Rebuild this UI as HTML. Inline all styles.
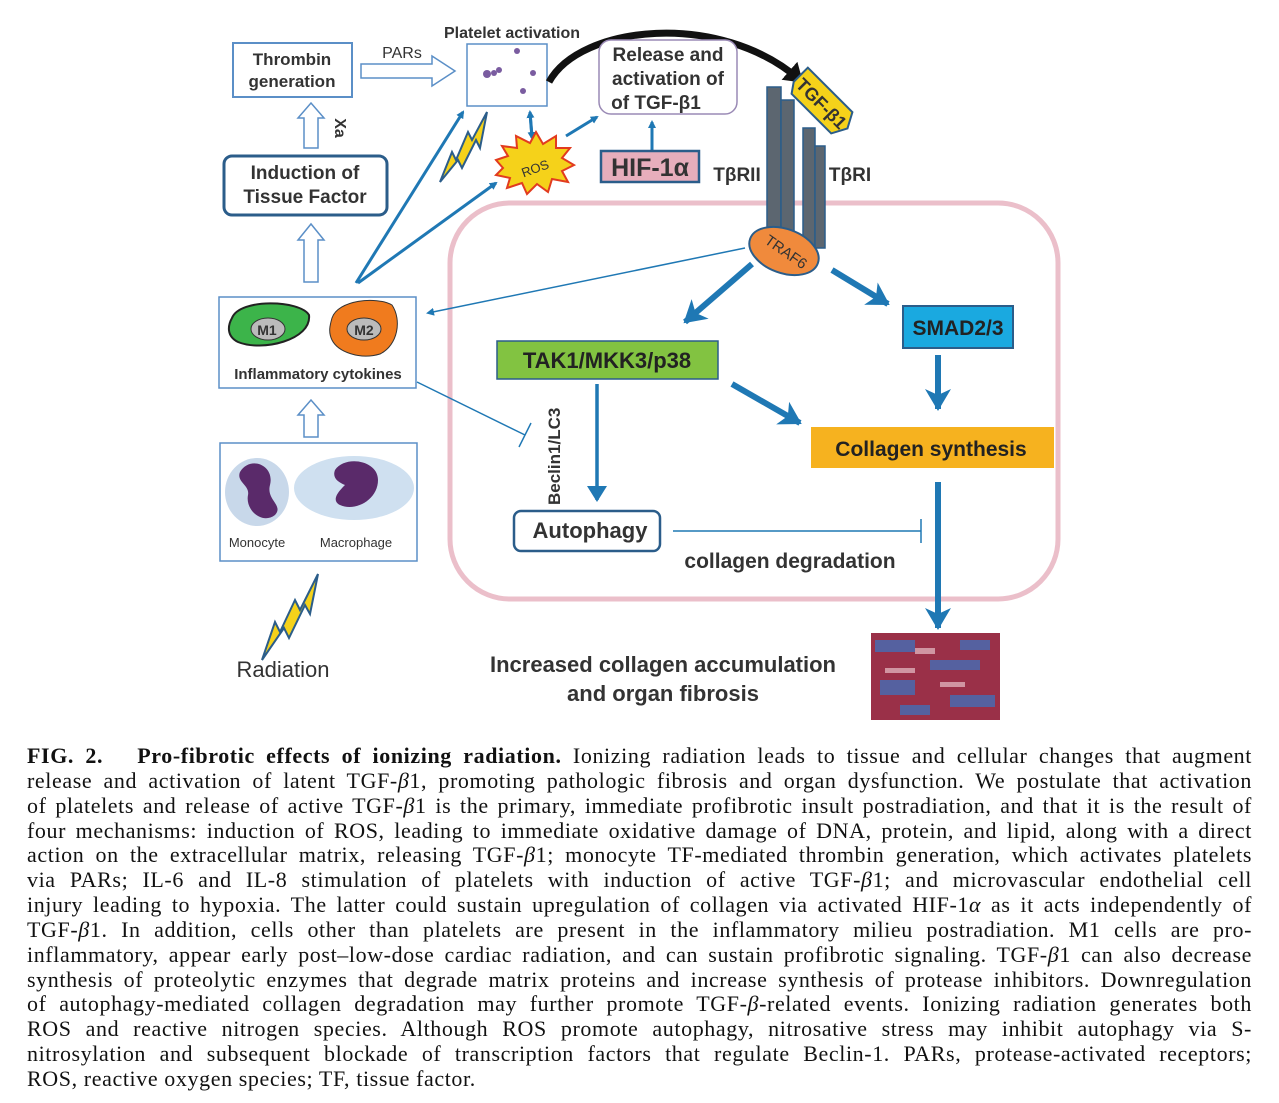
<!DOCTYPE html>
<html><head><meta charset="utf-8"><style>
body{margin:0;background:#fff;width:1279px;height:1103px;overflow:hidden;position:relative}
svg{position:absolute;left:0;top:0}
.cap{position:absolute;left:27px;width:1225px;top:744px;font-family:"Liberation Serif",serif;font-size:22px;line-height:24.85px;color:#111;letter-spacing:0.6px}
.cap div{text-align:justify;text-align-last:justify;white-space:nowrap;overflow:visible}
.cap div.l{text-align-last:left}
</style></head><body>
<svg width="1279" height="740" viewBox="0 0 1279 740" font-family="Liberation Sans, sans-serif">
<defs>
<marker id="a" markerWidth="8" markerHeight="8" refX="6" refY="4" orient="auto" markerUnits="userSpaceOnUse"><path d="M0,0 L8,4 L0,8 z" fill="#1f78b4"/></marker>
<marker id="ab" markerWidth="26" markerHeight="26" refX="20" refY="13" orient="auto" markerUnits="userSpaceOnUse"><path d="M0,0 L22,13 L0,26 L6,13z" fill="#1f78b4"/></marker>
<marker id="as" markerWidth="20" markerHeight="20" refX="14" refY="10" orient="auto" markerUnits="userSpaceOnUse"><path d="M0,0 L16,10 L0,20 z" fill="#1f78b4"/></marker>
<marker id="ak" markerWidth="24" markerHeight="24" refX="14" refY="12" orient="auto" markerUnits="userSpaceOnUse"><path d="M0,0 L18,12 L0,24 z" fill="#111"/></marker>
</defs>
<rect x="450" y="203" width="608" height="396" rx="60" fill="none" stroke="#ebbfca" stroke-width="5"/>
<rect x="233" y="43" width="119" height="54" fill="#fff" stroke="#5b8fc7" stroke-width="2"/>
<text x="292" y="65" font-size="17" text-anchor="middle" font-weight="bold" fill="#333">Thrombin</text>
<text x="292" y="87" font-size="17" text-anchor="middle" font-weight="bold" fill="#333">generation</text>
<text x="402" y="58" font-size="16" text-anchor="middle" fill="#333">PARs</text>
<path d="M361,64 H432 V56 L455,71 L432,86 V78 H361z" fill="#fff" stroke="#5b8fc7" stroke-width="1.5"/>
<text x="512" y="38" font-size="16" text-anchor="middle" font-weight="bold" fill="#333">Platelet activation</text>
<rect x="467" y="44" width="80" height="62" fill="#fff" stroke="#5b8fc7" stroke-width="1.5"/>
<g fill="#7a5ca0"><circle cx="487" cy="74" r="4"/><circle cx="494" cy="73" r="3"/><circle cx="499" cy="70" r="3"/><circle cx="517" cy="51" r="3"/><circle cx="533" cy="73" r="3"/><circle cx="523" cy="91" r="3"/></g>
<path d="M549,82 C580,25 720,10 800,80" fill="none" stroke="#111" stroke-width="7" marker-end="url(#ak)"/>
<rect x="599" y="40" width="138" height="74" rx="12" fill="#fff" stroke="#9a8ab5" stroke-width="1.5"/>
<text x="668" y="61" font-size="19" text-anchor="middle" font-weight="bold" fill="#333">Release and</text>
<text x="668" y="85" font-size="19" text-anchor="middle" font-weight="bold" fill="#333">activation of</text>
<text x="656" y="109" font-size="19" text-anchor="middle" font-weight="bold" fill="#333">of TGF-β1</text>
<path d="M304,148 V118 H298 L311,103 L324,118 H318 V148z" fill="#fff" stroke="#5b8fc7" stroke-width="1.5"/>
<text x="335" y="128" font-size="16" font-weight="bold" fill="#333" transform="rotate(90 335 128)" text-anchor="middle">Xa</text>
<rect x="224" y="156" width="163" height="59" rx="8" fill="#fff" stroke="#2b5d8a" stroke-width="3"/>
<text x="305" y="179" font-size="19" text-anchor="middle" font-weight="bold" fill="#333">Induction of</text>
<text x="305" y="203" font-size="19" text-anchor="middle" font-weight="bold" fill="#333">Tissue Factor</text>
<path d="M304,282 V240 H298 L311,224 L324,240 H318 V282z" fill="#fff" stroke="#5b8fc7" stroke-width="1.5"/>
<path d="M487,112 L472,140 L468,132 L456,160 L452,152 L440,182 L458,160 L462,168 L476,140 L480,148z" fill="#f5d21a" stroke="#2b5d8a" stroke-width="2"/>
<g stroke="#1f78b4" stroke-width="3" fill="none">
<line x1="356" y1="283" x2="463" y2="112" marker-end="url(#a)"/>
<line x1="358" y1="283" x2="496" y2="183" marker-end="url(#a)"/>
<line x1="566" y1="136" x2="597" y2="117" marker-end="url(#a)"/>
<line x1="652" y1="150" x2="652" y2="122" marker-end="url(#a)"/>
<line x1="530" y1="113" x2="532" y2="138" marker-end="url(#a)"/>
<line x1="532" y1="136" x2="530" y2="112" marker-end="url(#a)"/>
</g>
<path d="M503,168 L496,160 L508,156 L502,146 L517,148 L516,136 L530,143 L536,132 L543,144 L556,136 L556,148 L570,148 L562,158 L574,165 L562,171 L568,182 L552,179 L548,192 L537,184 L527,194 L522,183 L507,188 L510,178 L496,175z" fill="#f5d21a" stroke="#e23b1f" stroke-width="2"/>
<text x="535" y="173" font-size="13" text-anchor="middle" fill="#333" transform="rotate(-20 535 168)">ROS</text>
<rect x="601" y="151" width="98" height="31" fill="#e7aebc" stroke="#2b5d8a" stroke-width="2.5"/>
<text x="650" y="176" font-size="25" text-anchor="middle" font-weight="bold" fill="#333">HIF-1α</text>
<text x="737" y="181" font-size="19" text-anchor="middle" font-weight="bold" fill="#333">TβRII</text>
<text x="850" y="181" font-size="19" text-anchor="middle" font-weight="bold" fill="#333">TβRI</text>
<g fill="#5c6670" stroke="#2b5d8a" stroke-width="1.5">
<rect x="767" y="87" width="14" height="160"/><rect x="781" y="100" width="13" height="147"/>
<rect x="803" y="128" width="12" height="120"/><rect x="815" y="146" width="10" height="102"/>
</g>
<g transform="rotate(45 822 103)"><path d="M787,88 L850,88 L858,103 L850,118 L794,118 L787,108z" fill="#f5d21a" stroke="#2b5d8a" stroke-width="2"/>
<text x="822" y="110" font-size="18" text-anchor="middle" font-weight="bold" fill="#333">TGF-β1</text></g>
<ellipse cx="784" cy="251" rx="36" ry="22" fill="#f08a3c" stroke="#2b5d8a" stroke-width="2" transform="rotate(20 784 251)"/>
<text x="786" y="257" font-size="15" text-anchor="middle" fill="#333" transform="rotate(35 786 252)">TRAF6</text>
<line x1="745" y1="248" x2="428" y2="313" stroke="#1f78b4" stroke-width="1.5" marker-end="url(#a)"/>
<g stroke="#1f78b4" stroke-width="6" fill="none">
<line x1="752" y1="264" x2="685" y2="322" marker-end="url(#ab)"/>
<line x1="832" y1="270" x2="888" y2="304" marker-end="url(#ab)"/>
<line x1="938" y1="355" x2="938" y2="409" marker-end="url(#ab)"/>
<line x1="732" y1="384" x2="800" y2="423" marker-end="url(#ab)"/>
<line x1="938" y1="482" x2="938" y2="628" marker-end="url(#ab)"/>
</g>
<line x1="597" y1="384" x2="597" y2="500" stroke="#1f78b4" stroke-width="3.5" marker-end="url(#as)"/>
<rect x="497" y="341" width="221" height="38" fill="#82c341" stroke="#2b5d8a" stroke-width="1.5"/>
<text x="607" y="368" font-size="22" text-anchor="middle" font-weight="bold" fill="#222">TAK1/MKK3/p38</text>
<rect x="903" y="306" width="110" height="42" fill="#1aa9e0" stroke="#2b5d8a" stroke-width="2"/>
<text x="958" y="335" font-size="21" text-anchor="middle" font-weight="bold" fill="#222">SMAD2/3</text>
<rect x="811" y="427" width="243" height="41" fill="#f6b21f"/>
<text x="931" y="456" font-size="21" text-anchor="middle" font-weight="bold" fill="#222">Collagen synthesis</text>
<text x="560" y="505" font-size="17" font-weight="bold" fill="#333" transform="rotate(-90 560 505)">Beclin1/LC3</text>
<rect x="514" y="511" width="146" height="40" rx="7" fill="#fff" stroke="#2b5d8a" stroke-width="2.5"/>
<text x="590" y="538" font-size="22" text-anchor="middle" font-weight="bold" fill="#333">Autophagy</text>
<line x1="673" y1="531" x2="921" y2="531" stroke="#1f78b4" stroke-width="1.5"/>
<line x1="921" y1="519" x2="921" y2="543" stroke="#1f78b4" stroke-width="1.5"/>
<text x="790" y="568" font-size="21" text-anchor="middle" font-weight="bold" fill="#333">collagen degradation</text>
<line x1="417" y1="382" x2="525" y2="435" stroke="#1f78b4" stroke-width="1.5"/>
<line x1="519" y1="447" x2="531" y2="423" stroke="#1f78b4" stroke-width="1.5"/>
<rect x="219" y="297" width="197" height="91" fill="#fff" stroke="#5b8fc7" stroke-width="1.5"/>
<path d="M232,318 C240,298 300,300 309,315 C312,340 262,352 238,342 C226,336 228,325 232,318z" fill="#3cb44a" stroke="#222" stroke-width="2"/>
<ellipse cx="268" cy="329" rx="17" ry="11" fill="#bbb" stroke="#333"/>
<text x="267" y="335" font-size="14" text-anchor="middle" font-weight="bold" fill="#333">M1</text>
<path d="M332,318 C338,300 376,296 392,305 C402,320 398,345 380,354 C360,360 338,352 332,340 C328,332 330,325 332,318z" fill="#f07b1e" stroke="#333" stroke-width="1"/>
<ellipse cx="364" cy="329" rx="17" ry="11" fill="#bbb" stroke="#333"/>
<text x="364" y="335" font-size="14" text-anchor="middle" font-weight="bold" fill="#333">M2</text>
<text x="318" y="379" font-size="15" text-anchor="middle" font-weight="bold" fill="#333">Inflammatory cytokines</text>
<path d="M304,437 V415 H298 L311,400 L324,415 H318 V437z" fill="#fff" stroke="#5b8fc7" stroke-width="1.5"/>
<rect x="220" y="443" width="197" height="118" fill="#fff" stroke="#5b8fc7" stroke-width="1.5"/>
<ellipse cx="257" cy="492" rx="32" ry="34" fill="#c8d8ea"/>
<path d="M240,472 C250,455 275,465 270,485 C266,500 284,505 275,515 C262,525 245,510 248,495 C250,485 236,482 240,472z" fill="#5a2a6a"/>
<ellipse cx="354" cy="488" rx="60" ry="32" fill="#cfe0f0"/>
<path d="M335,470 C345,455 378,460 378,480 C378,500 355,512 340,505 C330,500 340,490 345,485 C338,482 332,478 335,470z" fill="#5a2a6a"/>
<text x="257" y="547" font-size="13" text-anchor="middle" fill="#333">Monocyte</text>
<text x="356" y="547" font-size="13" text-anchor="middle" fill="#333">Macrophage</text>
<path d="M318,574 L300,610 L295,600 L280,632 L275,622 L262,660 L284,628 L289,638 L305,605 L310,614z" fill="#f5d21a" stroke="#2b5d8a" stroke-width="2"/>
<text x="283" y="677" font-size="22" text-anchor="middle" fill="#333">Radiation</text>
<text x="663" y="672" font-size="22" text-anchor="middle" font-weight="bold" fill="#333">Increased collagen accumulation</text>
<text x="663" y="701" font-size="22" text-anchor="middle" font-weight="bold" fill="#333">and organ fibrosis</text>
<rect x="871" y="633" width="129" height="87" fill="#9a3048"/>
<g fill="#4a6ab0" opacity="0.85"><rect x="875" y="640" width="40" height="12"/><rect x="930" y="660" width="50" height="10"/><rect x="880" y="680" width="35" height="15"/><rect x="950" y="695" width="45" height="12"/><rect x="900" y="705" width="30" height="10"/><rect x="960" y="640" width="30" height="10"/></g>
<g fill="#e8c0c8" opacity="0.7"><rect x="915" y="648" width="20" height="6"/><rect x="885" y="668" width="30" height="5"/><rect x="940" y="682" width="25" height="5"/></g>
</svg>
<div class="cap">
<div><b>FIG. 2.&nbsp;&nbsp; Pro-fibrotic effects of ionizing radiation.</b> Ionizing radiation leads to tissue and cellular changes that augment</div>
<div>release and activation of latent TGF-<i>β</i>1, promoting pathologic fibrosis and organ dysfunction. We postulate that activation</div>
<div>of platelets and release of active TGF-<i>β</i>1 is the primary, immediate profibrotic insult postradiation, and that it is the result of</div>
<div>four mechanisms: induction of ROS, leading to immediate oxidative damage of DNA, protein, and lipid, along with a direct</div>
<div>action on the extracellular matrix, releasing TGF-<i>β</i>1; monocyte TF-mediated thrombin generation, which activates platelets</div>
<div>via PARs; IL-6 and IL-8 stimulation of platelets with induction of active TGF-<i>β</i>1; and microvascular endothelial cell</div>
<div>injury leading to hypoxia. The latter could sustain upregulation of collagen via activated HIF-1<i>α</i> as it acts independently of</div>
<div>TGF-<i>β</i>1. In addition, cells other than platelets are present in the inflammatory milieu postradiation. M1 cells are pro-</div>
<div>inflammatory, appear early post–low-dose cardiac radiation, and can sustain profibrotic signaling. TGF-<i>β</i>1 can also decrease</div>
<div>synthesis of proteolytic enzymes that degrade matrix proteins and increase synthesis of protease inhibitors. Downregulation</div>
<div>of autophagy-mediated collagen degradation may further promote TGF-<i>β</i>-related events. Ionizing radiation generates both</div>
<div>ROS and reactive nitrogen species. Although ROS promote autophagy, nitrosative stress may inhibit autophagy via S-</div>
<div>nitrosylation and subsequent blockade of transcription factors that regulate Beclin-1. PARs, protease-activated receptors;</div>
<div class="l">ROS, reactive oxygen species; TF, tissue factor.</div>
</div>
</body></html>
